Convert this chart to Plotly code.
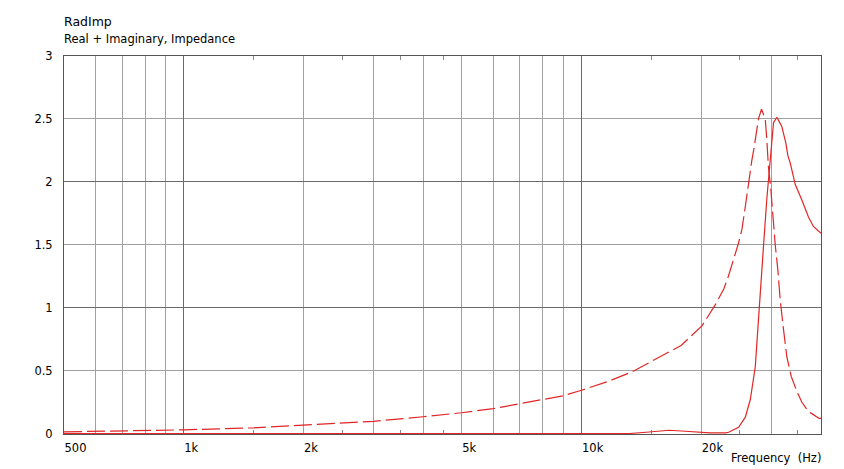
import math
import plotly.graph_objects as go

# ---- data ----
imag_freq = [500, 600, 700, 800, 900, 1000, 1500, 2000, 3000, 4000, 5000, 6000, 7000,
             8000, 9000, 10000, 11000, 11700, 13400, 15300, 17800, 20100, 21700, 22800,
             23400, 24800, 25300, 25800, 26300, 26800, 27100, 27600, 27850, 28350, 28970,
             29240, 29500, 29900, 30300, 30690, 31160, 31590, 32200, 32820, 33660, 34770,
             35780, 37200, 38280, 39570, 40000]
imag_val = [0.013, 0.017, 0.020, 0.024, 0.027, 0.029, 0.045, 0.068, 0.097, 0.133, 0.165,
            0.198, 0.238, 0.270, 0.300, 0.344, 0.390, 0.415, 0.490, 0.587, 0.700, 0.857,
            1.024, 1.150, 1.250, 1.510, 1.620, 1.800, 2.000, 2.170, 2.254, 2.450, 2.500,
            2.577, 2.500, 2.330, 2.120, 1.950, 1.700, 1.500, 1.300, 1.060, 0.825, 0.610,
            0.455, 0.336, 0.250, 0.175, 0.150, 0.120, 0.120]

real_freq = [500, 13200, 14800, 16100, 16600, 18250, 19600, 21000, 23000, 23430, 24830,
             25810, 26570, 26970, 27350, 27600, 27870, 28150, 28310, 28690, 29240, 29700,
             30100, 30390, 30980, 31880, 32630, 33010, 33470, 34450, 35780, 37200, 38280,
             39570, 40000]
real_val = [0.0, 0.0, 0.012, 0.025, 0.026, 0.018, 0.010, 0.005, 0.005, 0.010, 0.050,
            0.130, 0.270, 0.400, 0.534, 0.720, 0.905, 1.060, 1.240, 1.500, 1.870, 2.130,
            2.360, 2.470, 2.513, 2.440, 2.310, 2.210, 2.150, 1.980, 1.857, 1.720, 1.645,
            1.600, 1.590]

x_label_vals = [500, 1000, 2000, 5000, 10000, 20000]
x_label_text = ["500", "1k", "2k", "5k", "10k", "20k"]
x_grid_light = [600, 700, 800, 900, 2000, 3000, 4000, 5000, 6000, 7000, 8000, 9000,
                20000, 30000]
x_grid_dark = [1000, 10000]
x_small_ticks = [1500, 2500, 3500, 4500, 15000, 25000, 35000]
y_tick_vals = [0, 0.5, 1, 1.5, 2, 2.5, 3]
y_tick_text = ["0", "0.5", "1", "1.5", "2", "2.5", "3"]
y_grid_dark = [1, 2]

f_min, f_max = 500, 40000
y_min, y_max = -0.004, 3.0

RED = "#e02626"
LIGHT = "#a0a0a0"
DARK = "#6a6a6a"
FONT = "DejaVu Sans"

xr = [math.log10(f_min), math.log10(f_max)]

fig = go.Figure()
fig.add_trace(go.Scatter(x=imag_freq, y=imag_val, mode="lines",
                         line=dict(color=RED, width=1.2, dash="18px,5px"),
                         showlegend=False, hoverinfo="skip"))
fig.add_trace(go.Scatter(x=real_freq, y=real_val, mode="lines",
                         line=dict(color=RED, width=1.2),
                         showlegend=False, hoverinfo="skip"))
# empty traces so overlay grid axes are created
fig.add_trace(go.Scatter(x=[], y=[], xaxis="x2", yaxis="y", showlegend=False))
fig.add_trace(go.Scatter(x=[], y=[], xaxis="x3", yaxis="y2", showlegend=False))

# the page body has an 8px margin, so the figure is sized/offset to compensate
fig.update_layout(
    width=836, height=461,
    margin=dict(l=56, r=23, t=48, b=35),
    paper_bgcolor="white", plot_bgcolor="white",
    font=dict(family=FONT, size=11.5, color="black"),
    xaxis=dict(type="log", range=xr, tickvals=x_label_vals, ticktext=x_label_text,
               ticks="", showgrid=False, zeroline=False, showline=True,
               linecolor="#555555", linewidth=1, mirror="allticks",
               ticklabelposition="outside right", ticklabelstandoff=3,
               tickfont=dict(family=FONT, size=11.5, color="black"),
               minor=dict(tickvals=x_small_ticks, ticks="inside", ticklen=4,
                          tickcolor="#888888", tickwidth=1, showgrid=False),
               layer="below traces"),
    xaxis2=dict(type="log", range=xr, overlaying="x", anchor="y", tickvals=x_grid_light,
                showgrid=True, gridcolor=LIGHT, gridwidth=1, showticklabels=False,
                ticks="", showline=False, zeroline=False),
    xaxis3=dict(type="log", range=xr, overlaying="x", anchor="y2", tickvals=x_grid_dark,
                showgrid=True, gridcolor=DARK, gridwidth=1, showticklabels=False,
                ticks="", showline=False, zeroline=False),
    yaxis=dict(range=[y_min, y_max], tickvals=y_tick_vals, ticktext=y_tick_text,
               ticks="", showgrid=True, gridcolor=LIGHT, gridwidth=1, zeroline=False,
               showline=True, linecolor="#555555", linewidth=1, mirror=True,
               ticklabelstandoff=8, tickfont=dict(family=FONT, size=11.5, color="black"),
               layer="below traces"),
    yaxis2=dict(range=[y_min, y_max], overlaying="y", anchor="x", tickvals=y_grid_dark,
                showgrid=True, gridcolor=DARK, gridwidth=1, showticklabels=False,
                ticks="", showline=False, zeroline=False),
    annotations=[
        dict(text="RadImp", xref="paper", yref="paper", x=0, y=(434 - 21.5) / 378,
             xanchor="left", yanchor="middle", showarrow=False, xshift=-2,
             font=dict(family=FONT, size=12.5, color="black")),
        dict(text="Real + Imaginary, Impedance", xref="paper", yref="paper", x=0,
             y=(434 - 38.5) / 378, xanchor="left", yanchor="middle", showarrow=False,
             xshift=-2, font=dict(family=FONT, size=11.5, color="black")),
        dict(text="Frequency\u00a0 (Hz)", xref="paper", yref="paper", x=1,
             y=(434 - 457.5) / 378, xanchor="right", yanchor="middle", showarrow=False,
             xshift=2, font=dict(family=FONT, size=11.5, color="black")),
    ],
)

fig.write_html("out.html")
